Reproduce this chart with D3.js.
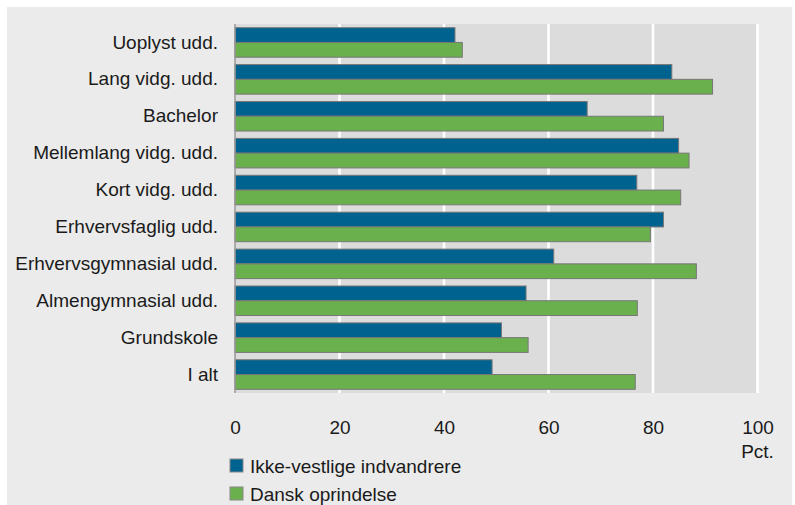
<!DOCTYPE html>
<html>
<head>
<meta charset="utf-8">
<script src="https://cdn.jsdelivr.net/npm/d3@7"></script>
<style>
  html, body { margin: 0; padding: 0; background: #ffffff; }
  svg { display: block; }
  text { font-family: "Liberation Sans", Arial, sans-serif; fill: #1a1a1a; }
</style>
</head>
<body>
<svg id="chart" width="795" height="505"></svg>
<script>
// Education categories, listed top to bottom
const categories = [
  "Uoplyst udd.",
  "Lang vidg. udd.",
  "Bachelor",
  "Mellemlang vidg. udd.",
  "Kort vidg. udd.",
  "Erhvervsfaglig udd.",
  "Erhvervsgymnasial udd.",
  "Almengymnasial udd.",
  "Grundskole",
  "I alt"
];

// Share in percent for each group
const ikkeVestlige = [42.1, 83.6, 67.4, 84.9, 76.9, 82.0, 61.0, 55.7, 51.0, 49.2];
const danskOprindelse = [43.5, 91.4, 82.0, 86.9, 85.3, 79.5, 88.3, 77.0, 56.1, 76.6];

const seriesNames = ["Ikke-vestlige indvandrere", "Dansk oprindelse"];
const seriesColors = ["#00628f", "#6ab04c"];
const xTicks = [0, 20, 40, 60, 80, 100];
const unitLabel = "Pct.";

const fontSize = 19;
const svg = d3.select("#chart");

// Outer panel
svg.append("rect")
  .attr("x", 7).attr("y", 7)
  .attr("width", 785).attr("height", 505)
  .attr("fill", "#ebebeb");

const plotTop = 24, plotBottom = 393;

const x = d3.scaleLinear().domain([0, 100]).range([235, 757.5]);
const y = d3.scaleBand().domain(categories).range([plotTop, plotBottom])
  .paddingInner(0.2).paddingOuter(0.1);
const ySub = d3.scaleBand().domain(seriesNames).range([0, y.bandwidth()]);

// Plot background
svg.append("rect")
  .attr("x", x(0)).attr("y", plotTop)
  .attr("width", x(100) - x(0)).attr("height", plotBottom - plotTop)
  .attr("fill", "#dcdcdc");

// Vertical gridlines
svg.append("g")
  .selectAll("line")
  .data(xTicks.filter(d => d > 0))
  .join("line")
  .attr("x1", d => x(d)).attr("x2", d => x(d))
  .attr("y1", plotTop).attr("y2", plotBottom)
  .attr("stroke", "#ffffff")
  .attr("stroke-width", 2.6);

// Bars
const rows = categories.map((c, i) => ({
  category: c,
  values: [
    { series: seriesNames[0], value: ikkeVestlige[i], color: seriesColors[0] },
    { series: seriesNames[1], value: danskOprindelse[i], color: seriesColors[1] }
  ]
}));

svg.append("g")
  .selectAll("g")
  .data(rows)
  .join("g")
  .attr("transform", d => `translate(0,${y(d.category)})`)
  .selectAll("rect")
  .data(d => d.values)
  .join("rect")
  .attr("x", x(0))
  .attr("y", d => ySub(d.series))
  .attr("width", d => x(d.value) - x(0))
  .attr("height", ySub.bandwidth())
  .attr("fill", d => d.color)
  .attr("stroke", "#777777")
  .attr("stroke-width", 1);

// Value axis line at zero
svg.append("line")
  .attr("x1", x(0)).attr("x2", x(0))
  .attr("y1", plotTop).attr("y2", plotBottom)
  .attr("stroke", "#999999")
  .attr("stroke-width", 1.5);

// Category labels
const yAxis = d3.axisLeft(y).tickSize(0).tickPadding(17);
const yG = svg.append("g").attr("transform", `translate(${x(0)},0)`).call(yAxis);
yG.select(".domain").remove();
yG.selectAll("text")
  .attr("font-size", fontSize)
  .attr("fill", "#1a1a1a")
  .attr("font-family", "Liberation Sans, Arial, sans-serif");

// Value axis labels
const xAxis = d3.axisBottom(x).tickValues(xTicks).tickSize(0).tickPadding(0);
const xG = svg.append("g").attr("transform", `translate(0,${plotBottom})`).call(xAxis);
xG.select(".domain").remove();
xG.selectAll("text")
  .attr("font-size", fontSize)
  .attr("fill", "#1a1a1a")
  .attr("font-family", "Liberation Sans, Arial, sans-serif")
  .attr("dy", null)
  .attr("y", 41);

svg.append("text")
  .attr("x", x(100))
  .attr("y", 458)
  .attr("text-anchor", "middle")
  .attr("font-size", fontSize)
  .text(unitLabel);

// Legend
const legend = svg.append("g")
  .selectAll("g")
  .data(seriesNames)
  .join("g")
  .attr("transform", (d, i) => `translate(230,${459 + i * 28})`);

legend.append("rect")
  .attr("width", 13).attr("height", 13)
  .attr("fill", (d, i) => seriesColors[i])
  .attr("stroke", "#888888")
  .attr("stroke-width", 1);

legend.append("text")
  .attr("x", 20)
  .attr("y", 13.5)
  .attr("font-size", fontSize)
  .text(d => d);
</script>
</body>
</html>
